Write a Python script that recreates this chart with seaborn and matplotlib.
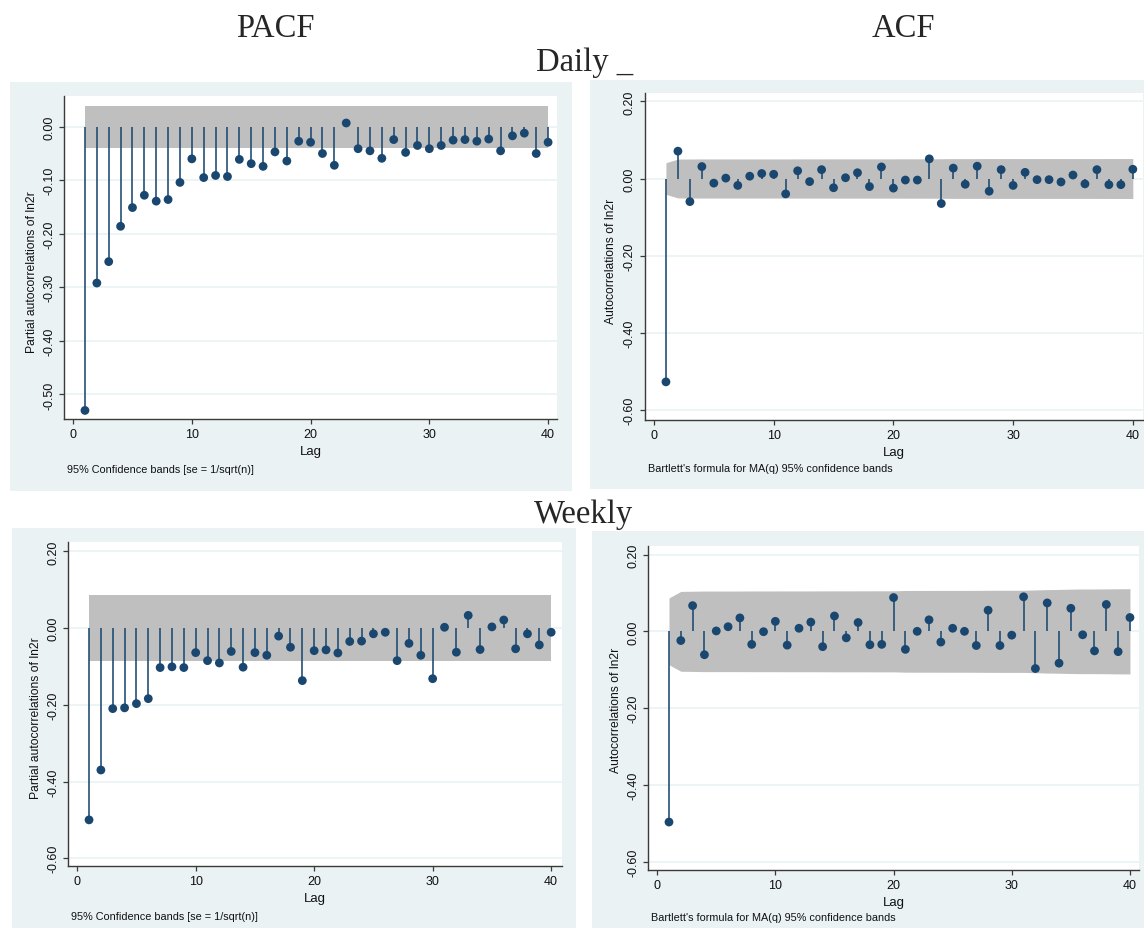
"""
PACF / ACF panels of ln2r (daily and weekly), laid out like the Stata
correlogram export: PACF on the left, ACF on the right.
"""

import matplotlib
matplotlib.use("Agg")
import matplotlib.pyplot as plt
from matplotlib.patches import Rectangle
import numpy as np
import seaborn as sns

W, H = 1144, 929

lags = list(range(1, 41))

# ----------------------------------------------------------------------------
# values
# ----------------------------------------------------------------------------
pacf_daily = [-0.530, -0.292, -0.252, -0.186, -0.151, -0.128, -0.139, -0.136,
              -0.104, -0.060, -0.095, -0.091, -0.093, -0.061, -0.069, -0.074,
              -0.047, -0.064, -0.027, -0.029, -0.050, -0.072, 0.007, -0.041,
              -0.045, -0.059, -0.024, -0.048, -0.035, -0.041, -0.035, -0.025,
              -0.024, -0.027, -0.023, -0.045, -0.017, -0.012, -0.050, -0.029]
pacf_daily_ci = 0.039

acf_daily = [-0.528, 0.071, -0.060, 0.031, -0.012, 0.001, -0.018, 0.006,
             0.013, 0.011, -0.040, 0.020, -0.008, 0.023, -0.024, 0.002,
             0.015, -0.021, 0.030, -0.025, -0.004, -0.004, 0.051, -0.065,
             0.027, -0.015, 0.032, -0.033, 0.023, -0.018, 0.016, -0.003,
             -0.003, -0.009, 0.009, -0.014, 0.023, -0.016, -0.016, 0.024]
acf_daily_ci = [0.041, 0.0505, 0.0506, 0.0508, 0.0508, 0.0508, 0.0508, 0.0508,
                0.0508, 0.0508, 0.0508, 0.0509, 0.0509, 0.0509, 0.0510, 0.0510,
                0.0510, 0.0510, 0.0510, 0.0510, 0.0511, 0.0511, 0.0511, 0.0513,
                0.0516, 0.0516, 0.0516, 0.0517, 0.0517, 0.0517, 0.0517, 0.0517,
                0.0517, 0.0517, 0.0517, 0.0517, 0.0517, 0.0518, 0.0518, 0.0518]

pacf_weekly = [-0.500, -0.370, -0.210, -0.208, -0.197, -0.184, -0.103, -0.101,
               -0.103, -0.064, -0.085, -0.091, -0.061, -0.102, -0.064, -0.071,
               -0.021, -0.050, -0.137, -0.059, -0.057, -0.065, -0.035, -0.034,
               -0.015, -0.011, -0.085, -0.040, -0.071, -0.132, 0.002, -0.063,
               0.033, -0.056, 0.003, 0.021, -0.054, -0.015, -0.044, -0.011]
pacf_weekly_ci = 0.087

acf_weekly = [-0.497, -0.024, 0.067, -0.061, 0.001, 0.012, 0.035, -0.034,
              -0.001, 0.026, -0.036, 0.008, 0.024, -0.040, 0.040, -0.017,
              0.023, -0.035, -0.034, 0.088, -0.047, 0.000, 0.030, -0.028,
              0.008, 0.000, -0.037, 0.055, -0.037, -0.010, 0.090, -0.097,
              0.074, -0.083, 0.060, -0.009, -0.051, 0.070, -0.053, 0.036]
acf_weekly_ci = [0.087, 0.104, 0.1045, 0.105, 0.105, 0.105, 0.105, 0.1052,
                 0.1052, 0.1052, 0.1053, 0.1053, 0.1053, 0.1054, 0.1055, 0.1055,
                 0.1055, 0.1056, 0.1056, 0.1056, 0.1064, 0.1065, 0.1065, 0.1066,
                 0.1066, 0.1066, 0.1067, 0.1069, 0.1070, 0.1070, 0.1070, 0.1079,
                 0.1087, 0.1092, 0.1099, 0.1103, 0.1103, 0.1105, 0.1109, 0.1110]

PACF_TICKS_DAILY = [0.0, -0.1, -0.2, -0.3, -0.4, -0.5]
WIDE_TICKS = [0.2, 0.0, -0.2, -0.4, -0.6]
X_TICKS = [0, 10, 20, 30, 40]

NOTE_PACF = "95% Confidence bands [se = 1/sqrt(n)]"
NOTE_ACF = "Bartlett's formula for MA(q) 95% confidence bands"

NAVY = "#1a476f"
BAND = "#bfbfbf"
REGION = "#eaf2f3"
AXIS = "#3a3a3a"

sns.set_theme(style="white")
plt.rcParams["font.family"] = ["Liberation Sans", "DejaVu Sans"]
plt.rcParams["axes.unicode_minus"] = False


def fig_box(x0, y0, x1, y1):
    return [x0 / W, 1 - y1 / H, (x1 - x0) / W, (y1 - y0) / H]


def draw_panel(fig, region, plot, ylim, xlim, vals, ci, yticks, ylabel,
               note, ylab_x, ylab_y, note_y):
    # light graph region behind the white plot region
    rx0, ry0, rx1, ry1 = region
    fig.add_artist(Rectangle((rx0 / W, 1 - ry1 / H), (rx1 - rx0) / W,
                             (ry1 - ry0) / H, transform=fig.transFigure,
                             facecolor=REGION, edgecolor="none", zorder=0))
    ax = fig.add_axes(fig_box(*plot))
    ax.set_facecolor("white")
    ax.set_zorder(1)

    lo = -np.asarray(ci) if np.ndim(ci) else [-ci] * len(lags)
    hi = np.asarray(ci) if np.ndim(ci) else [ci] * len(lags)
    ax.fill_between(lags, lo, hi, color=BAND, linewidth=0, zorder=1)

    for t in yticks:
        ax.axhline(t, color=REGION, lw=1.2, zorder=0.5)

    ax.vlines(lags, 0, vals, color=NAVY, lw=1.2, alpha=0.95, zorder=2)
    sns.scatterplot(x=lags, y=vals, ax=ax, color=NAVY, s=40,
                    edgecolor="none", zorder=3, legend=False)

    ax.set_xlim(*xlim)
    ax.set_ylim(*ylim)
    ax.set_xticks(X_TICKS)
    ax.set_xticklabels([str(t) for t in X_TICKS])
    ax.set_yticks(yticks)
    ax.set_yticklabels([f"{t:.2f}" if t != 0 else "0.00" for t in yticks])

    for side in ("top", "right"):
        ax.spines[side].set_visible(False)
    for side in ("left", "bottom"):
        ax.spines[side].set_color(AXIS)
        ax.spines[side].set_linewidth(1.0)

    ax.tick_params(axis="both", direction="out", length=3.6, width=0.9,
                   color=AXIS, labelsize=9, labelcolor="#111111", pad=3,
                   left=True, bottom=True)
    ax.tick_params(axis="y", labelrotation=90)
    for lab in ax.get_yticklabels():
        lab.set_va("center")

    px0, py0, px1, py1 = plot
    ax.set_xlabel("Lag", fontsize=9.5, color="#111111")
    ax.xaxis.label.set_va("center")
    ax.xaxis.set_label_coords(0.5, -31.7 / (py1 - py0))
    ax.set_ylabel(ylabel, fontsize=8.7, color="#111111")
    ax.yaxis.label.set_va("center")
    ax.yaxis.set_label_coords((ylab_x - px0) / (px1 - px0),
                              (py1 - ylab_y) / (py1 - py0))

    fig.text((px0 + 3) / W, 1 - note_y / H, note, fontsize=7.8,
             color="#111111", ha="left", va="center")
    return ax


fig = plt.figure(figsize=(W / 100, H / 100), dpi=100)
fig.patch.set_facecolor("white")

# daily
draw_panel(fig, (10, 83, 572, 492), (64.3, 96.7, 557, 420),
           (-0.546, 0.058), (-0.74, 40.75), pacf_daily, pacf_daily_ci,
           PACF_TICKS_DAILY, "Partial autocorrelations of ln2r", NOTE_PACF,
           32, 272, 470)
draw_panel(fig, (590, 81, 1144, 490), (645, 94, 1143, 421),
           (-0.627, 0.222), (-0.75, 40.85), acf_daily, acf_daily_ci,
           WIDE_TICKS, "Autocorrelations of ln2r", NOTE_ACF,
           611, 261, 469.5)

# weekly
draw_panel(fig, (12, 529, 576, 929), (68.3, 543.3, 562.3, 867.3),
           (-0.621, 0.2235), (-0.75, 40.94), pacf_weekly, pacf_weekly_ci,
           WIDE_TICKS, "Partial autocorrelations of ln2r", NOTE_PACF,
           36, 718, 917)
draw_panel(fig, (592, 532, 1144, 929), (648.3, 547.3, 1138.7, 871),
           (-0.622, 0.2216), (-0.75, 40.74), acf_weekly, acf_weekly_ci,
           WIDE_TICKS, "Autocorrelations of ln2r", NOTE_ACF,
           616, 710, 918)

# headings (serif, as in the document)
serif = ["Liberation Serif", "DejaVu Serif"]
fig.text(275.5 / W, 1 - 37 / H, "PACF", family=serif, fontsize=23.5,
         ha="center", va="baseline")
fig.text(903 / W, 1 - 37 / H, "ACF", family=serif, fontsize=23.5,
         ha="center", va="baseline")
fig.text(585 / W, 1 - 71 / H, "Daily _", family=serif, fontsize=23.5,
         ha="center", va="baseline")
fig.text(583 / W, 1 - 523 / H, "Weekly", family=serif, fontsize=23.5,
         ha="center", va="baseline")

fig.savefig("out.png", dpi=100, facecolor="white")
print("wrote out.png")
